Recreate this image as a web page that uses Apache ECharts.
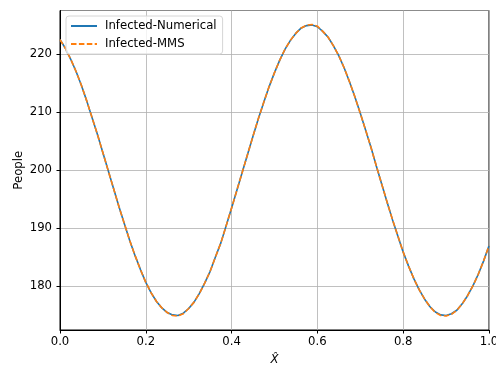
<!DOCTYPE html>
<html>
<head>
<meta charset="utf-8">
<script src="https://cdn.jsdelivr.net/npm/echarts@6/dist/echarts.min.js"></script>
<style>
  html, body { margin: 0; padding: 0; background: #fff; }
  #chart { width: 496px; height: 367px; }
</style>
</head>
<body>
<div id="chart"></div>
<script>
// x positions (X hat) and values
const xValues = [0, 0.0125, 0.025, 0.0375, 0.05, 0.0625, 0.075, 0.0875, 0.1, 0.1125, 0.125, 0.1375, 0.15, 0.1625, 0.175, 0.1875,
  0.2, 0.2125, 0.225, 0.2375, 0.25, 0.2625, 0.275, 0.2875, 0.3, 0.3125, 0.325, 0.3375, 0.35, 0.3625, 0.375, 0.3875,
  0.4, 0.4125, 0.425, 0.4375, 0.45, 0.4625, 0.475, 0.4875, 0.5, 0.5125, 0.525, 0.5375, 0.55, 0.5625, 0.575, 0.5875,
  0.6, 0.6125, 0.625, 0.6375, 0.65, 0.6625, 0.675, 0.6875, 0.7, 0.7125, 0.725, 0.7375, 0.75, 0.7625, 0.775, 0.7875,
  0.8, 0.8125, 0.825, 0.8375, 0.85, 0.8625, 0.875, 0.8875, 0.9, 0.9125, 0.925, 0.9375, 0.95, 0.9625, 0.975, 0.9875, 1.0];
const infectedNumerical = [222.5, 221.0, 219.1, 217.0, 214.6, 211.9, 209.0, 206.1, 203.0, 199.9, 196.8, 193.7, 190.8, 187.9, 185.3, 182.9,
  180.7, 178.9, 177.4, 176.3, 175.5, 175.1, 175.0, 175.4, 176.2, 177.3, 178.8, 180.6, 182.6, 185.1, 187.5, 190.5,
  193.5, 196.6, 199.7, 202.8, 205.9, 208.9, 211.7, 214.4, 216.8, 219.0, 220.9, 222.4, 223.6, 224.5, 224.9, 225.0,
  224.7, 223.9, 222.9, 221.4, 219.7, 217.6, 215.2, 212.6, 209.8, 206.9, 203.9, 200.7, 197.6, 194.5, 191.5, 188.7,
  185.9, 183.5, 181.3, 179.4, 177.8, 176.5, 175.6, 175.1, 175.0, 175.3, 175.9, 177.0, 178.4, 180.1, 182.1, 184.4, 187.0];
const infectedMMS = [222.5, 221.0, 219.1, 217.0, 214.6, 211.9, 209.0, 206.1, 203.0, 199.9, 196.8, 193.7, 190.8, 187.9, 185.3, 182.9,
  180.7, 178.9, 177.4, 176.3, 175.5, 175.0, 174.9, 175.3, 176.2, 177.3, 178.8, 180.6, 182.6, 185.1, 187.5, 190.5,
  193.5, 196.6, 199.7, 202.8, 205.9, 208.9, 211.7, 214.4, 216.8, 219.0, 220.9, 222.4, 223.6, 224.5, 225.0, 225.1,
  224.8, 223.9, 222.9, 221.4, 219.7, 217.6, 215.2, 212.6, 209.8, 206.9, 203.9, 200.7, 197.6, 194.5, 191.5, 188.7,
  185.9, 183.5, 181.3, 179.4, 177.8, 176.5, 175.5, 175.0, 174.9, 175.2, 175.9, 177.0, 178.4, 180.1, 182.1, 184.4, 187.0];
const seriesNames = ["Infected-Numerical", "Infected-MMS"];

const font = "DejaVu Sans";
const fs = 11.7;
const pairs = arr => xValues.map((x, i) => [x, arr[i]]);

let myChart = echarts.init(document.getElementById("chart"));
myChart.setOption({
  animation: false,
  textStyle: { fontFamily: font },
  grid: {
    left: 60, right: 7, top: 10.5, bottom: 37,
    outerBoundsMode: "none",
    containLabel: false,
    show: true, borderColor: "#000", borderWidth: 1, backgroundColor: "#fff"
  },
  legend: {
    data: seriesNames,
    orient: "vertical",
    left: 66, top: 16,
    itemWidth: 26, itemHeight: 12, itemGap: 6,
    padding: [4, 6, 4, 4],
    borderColor: "#d6d6d6", borderWidth: 1, borderRadius: 3,
    backgroundColor: "rgba(255,255,255,0.8)",
    itemStyle: { opacity: 0 },
    textStyle: { fontFamily: font, fontSize: fs, color: "#000", padding: [0, 0, 0, 3] }
  },
  xAxis: {
    type: "value",
    min: 0, max: 1, interval: 0.2,
    name: "X\u0302",
    nameLocation: "middle",
    nameGap: 24,
    nameMoveOverlap: false,
    nameTextStyle: { fontFamily: font, fontSize: fs, fontStyle: "italic", color: "#000" },
    axisLine: { lineStyle: { color: "#000", width: 1 } },
    axisTick: { show: true, length: 3.5, lineStyle: { color: "#000" } },
    axisLabel: { margin: 6, fontSize: fs, color: "#000", formatter: v => v.toFixed(1) },
    splitLine: { show: true, lineStyle: { color: "#b0b0b0", width: 0.8 } }
  },
  yAxis: {
    type: "value",
    min: 172.5, max: 227.5, splitNumber: 5,
    name: "People",
    nameLocation: "middle",
    nameGap: 35,
    nameMoveOverlap: false,
    nameTextStyle: { fontFamily: font, fontSize: fs, color: "#000" },
    axisLine: { show: true, lineStyle: { color: "#000", width: 1 } },
    axisTick: { show: true, length: 3.5, lineStyle: { color: "#000" } },
    axisLabel: { margin: 8, fontSize: fs, color: "#000", showMinLabel: false, showMaxLabel: false },
    splitLine: { show: true, lineStyle: { color: "#b0b0b0", width: 0.8 } }
  },
  series: [
    {
      name: seriesNames[0],
      type: "line",
      data: pairs(infectedNumerical),
      symbol: "none",
      lineStyle: { color: "#1f77b4", width: 1.6 },
      itemStyle: { color: "#1f77b4" }
    },
    {
      name: seriesNames[1],
      type: "line",
      data: pairs(infectedMMS),
      symbol: "none",
      lineStyle: { color: "#ff7f0e", width: 1.6, type: [5.5, 2.4] },
      itemStyle: { color: "#ff7f0e" }
    }
  ]
});
</script>
</body>
</html>
